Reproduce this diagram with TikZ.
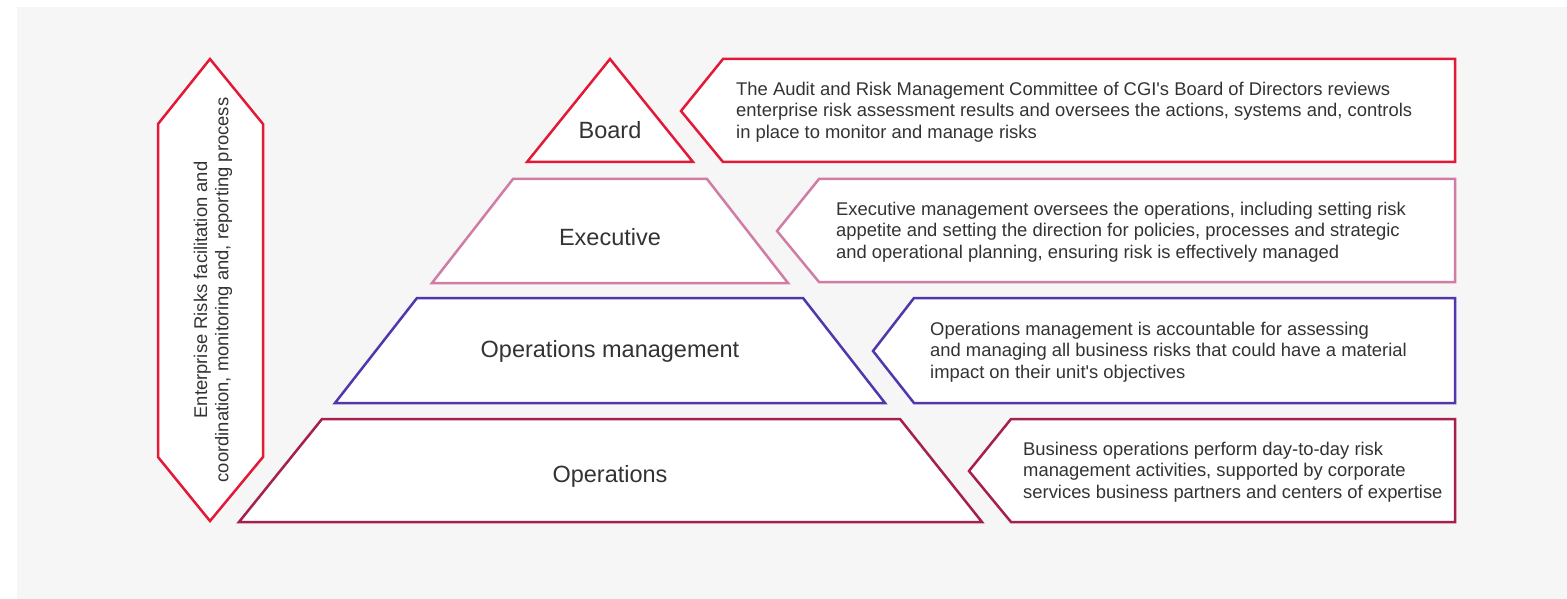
\documentclass[tikz,border=0pt]{standalone}
\usepackage{fontspec}
\setmainfont{Liberation Sans}
\usetikzlibrary{shapes}
\definecolor{boardred}{HTML}{E31937}
\definecolor{execpink}{HTML}{D07CA4}
\definecolor{mgmtpurple}{HTML}{5236AB}
\definecolor{opsred}{HTML}{A6214A}
\definecolor{bggray}{HTML}{F6F6F6}
\definecolor{txtgray}{HTML}{333333}
\tikzset{
  level/.style={fill=white,line width=2.5pt,line join=miter},
  lvllabel/.style={text=txtgray,inner sep=0pt,font=\fontsize{23.5}{27}\selectfont},
  desc/.style={text=txtgray,anchor=west,align=left,inner sep=0pt,font=\fontsize{18.4}{21.3}\selectfont},
}

\begin{document}
\begin{tikzpicture}[x=1pt,y=-1pt]
\useasboundingbox (0,0) rectangle (1567,599);
\fill[bggray] (17,7) rectangle (1567,599);

% process arrow
\draw[level,draw=boardred] (210,59) -- (263,124) -- (263,457) -- (210,521) -- (158,457) -- (158,124) -- cycle;
\node[desc,anchor=center,align=center,rotate=90] (process) at (213,290) {Enterprise Risks facilitation and\\coordination, monitoring and, reporting process};

% pyramid
\draw[level,draw=boardred] (610,59) -- (693,162) -- (527,162) -- cycle;
\draw[level,draw=execpink] (513,179) -- (707,179) -- (788,283) -- (432,283) -- cycle;
\draw[level,draw=mgmtpurple] (417,298) -- (803,298) -- (885,403) -- (335,403) -- cycle;
\draw[level,draw=opsred] (322,419) -- (900,419) -- (982,522) -- (239,522) -- cycle;

\node[lvllabel] (board) at (610,130) {Board};
\node[lvllabel] (executive) at (610,237) {Executive};
\node[lvllabel] (mgmt) at (610,351) {Operations management};
\node[lvllabel] (ops) at (610,476) {Operations};

% descriptions
\draw[level,draw=boardred] (681,111) -- (723,59) -- (1455,59) -- (1455,162) -- (723,162) -- cycle;
\draw[level,draw=execpink] (777,231) -- (819,179) -- (1455,179) -- (1455,282) -- (819,282) -- cycle;
\draw[level,draw=mgmtpurple] (873,351) -- (914,298) -- (1455,298) -- (1455,403) -- (914,403) -- cycle;
\draw[level,draw=opsred] (969,471) -- (1011,419) -- (1455,419) -- (1455,522) -- (1011,522) -- cycle;

\node[desc] (boarddesc) at (736,112) {The Audit and Risk Management Committee of CGI\textquotesingle s Board of Directors reviews\\enterprise risk assessment results and oversees the actions, systems and, controls\\in place to monitor and manage risks};
\node[desc] (execdesc) at (836,232) {Executive management oversees the operations, including setting risk\\appetite and setting the direction for policies, processes and strategic\\and operational planning, ensuring risk is effectively managed};
\node[desc] (mgmtdesc) at (930,352) {Operations management is accountable for assessing\\and managing all business risks that could have a material\\impact on their unit\textquotesingle s objectives};
\node[desc] (opsdesc) at (1023,472) {Business operations perform day-to-day risk\\management activities, supported by corporate\\services business partners and centers of expertise};
\end{tikzpicture}
\end{document}
